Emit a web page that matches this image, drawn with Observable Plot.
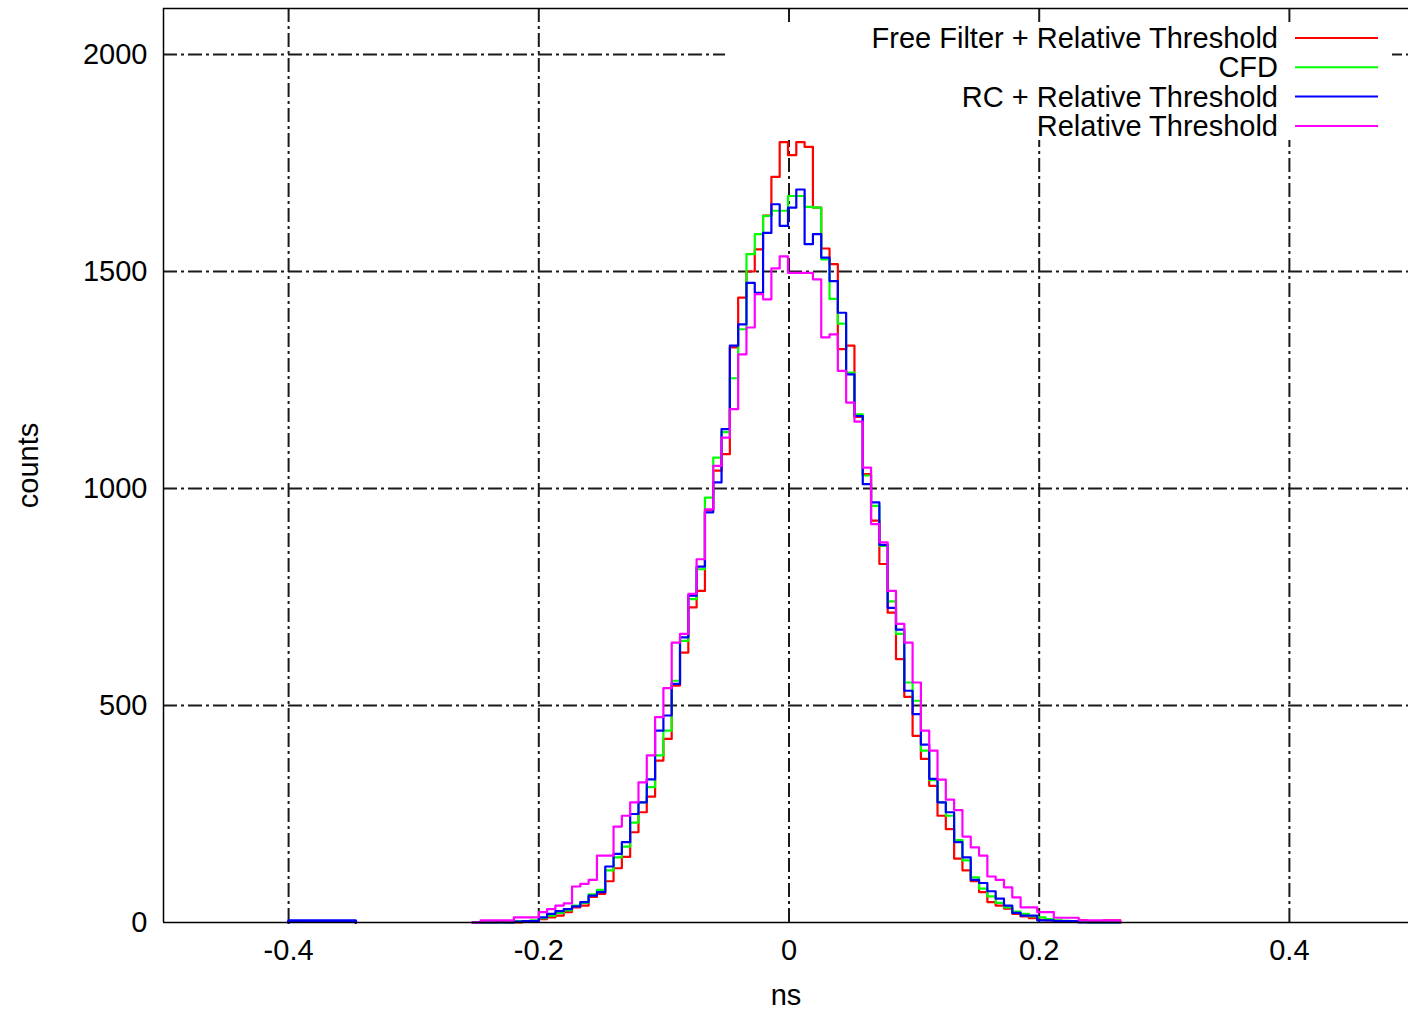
<!DOCTYPE html>
<html>
<head>
<meta charset="utf-8">
<script src="https://cdn.jsdelivr.net/npm/d3@7"></script>
<script src="https://cdn.jsdelivr.net/npm/@observablehq/plot@0.6"></script>
<style>
  body { margin: 0; background: white; }
  #wrap { position: relative; width: 1408px; height: 1011px; overflow: hidden; }
  #legend { position: absolute; left: 725px; top: 24px; }
</style>
</head>
<body>
<div id="wrap"></div>
<script>
// ---- data ----
const binStart = -0.25312;   // ns, left edge of first bin
const binWidth = 0.00664;    // ns

const seriesNames = ["Free Filter + Relative Threshold", "CFD", "RC + Relative Threshold", "Relative Threshold"];
const seriesColors = ["#ff0000", "#00ff00", "#0000ff", "#ff00ff"];

const redCounts = [
  0, 0, 0, 3, 0, 0, 3, 3, 8, 12,
  16, 24, 35, 39, 59, 66, 95, 125, 151, 208,
  254, 290, 373, 423, 546, 622, 726, 764, 950, 1041,
  1079, 1325, 1440, 1500, 1551, 1629, 1718, 1798, 1768, 1798,
  1787, 1647, 1553, 1517, 1321, 1329, 1165, 1033, 926, 826,
  714, 607, 520, 430, 377, 315, 246, 215, 147, 120,
  95, 70, 47, 39, 32, 20, 14, 10, 6, 5,
  4, 3, 3, 5, 3, 3, 5, 5
];
const greenCounts = [
  0, 0, 0, 0, 0, 3, 3, 5, 10, 16,
  22, 28, 39, 45, 65, 75, 120, 150, 175, 230,
  277, 312, 385, 442, 557, 649, 745, 814, 979, 1071,
  1130, 1254, 1367, 1540, 1586, 1628, 1640, 1640, 1674, 1674,
  1649, 1647, 1528, 1437, 1380, 1267, 1171, 1030, 960, 868,
  740, 665, 553, 511, 396, 328, 277, 246, 190, 143,
  104, 78, 60, 45, 35, 25, 20, 14, 12, 8,
  5, 4, 3, 2, 0, 0, 0, 0
];
const blueCounts = [
  0, 0, 0, 0, 0, 2, 3, 3, 12, 20,
  26, 31, 37, 47, 62, 70, 129, 158, 185, 250,
  277, 330, 442, 477, 550, 657, 753, 820, 945, 1014,
  1137, 1329, 1378, 1474, 1451, 1589, 1655, 1605, 1647, 1689,
  1563, 1586, 1532, 1478, 1405, 1263, 1167, 1010, 968, 870,
  725, 675, 534, 480, 410, 331, 277, 254, 185, 150,
  98, 91, 72, 55, 39, 22, 16, 16, 5, 5,
  3, 3, 3, 0, 0, 0, 0, 0
];
const pinkCounts = [
  0, 5, 5, 5, 5, 12, 12, 12, 24, 31,
  39, 44, 83, 89, 98, 154, 154, 221, 246, 277,
  323, 385, 473, 540, 645, 665, 757, 837, 952, 1052,
  1117, 1183, 1309, 1371, 1448, 1436, 1507, 1535, 1497, 1497,
  1497, 1482, 1348, 1355, 1271, 1198, 1154, 1048, 918, 876,
  764, 688, 645, 553, 442, 396, 329, 283, 259, 198,
  173, 154, 106, 98, 81, 58, 35, 35, 24, 24,
  11, 11, 11, 5, 5, 5, 5, 5
];
// isolated blue counts near -0.4 ns
const blueOutlierEdges = [-0.4, -0.3464];
const blueOutlierCounts = [4];

const xTicks = [-0.4, -0.2, 0, 0.2, 0.4];
const xTickLabels = ["-0.4", "-0.2", "0", "0.2", "0.4"];
const yTicks = [0, 500, 1000, 1500, 2000];
const yGridValues = [500, 1000, 1500, 2000];
const xLabel = "ns";
const yLabel = "counts";

// ---- build step points ----
function stepPoints(counts, start, width) {
  const pts = [{x: start, y: 0}];
  counts.forEach((c, i) => pts.push({x: start + i * width, y: c}));
  const end = start + counts.length * width;
  pts.push({x: end, y: counts[counts.length - 1]});
  pts.push({x: end, y: 0});
  return pts;
}
function edgePoints(edges, counts) {
  const pts = [{x: edges[0], y: 0}];
  counts.forEach((c, i) => pts.push({x: edges[i], y: c}));
  pts.push({x: edges[edges.length - 1], y: counts[counts.length - 1]});
  pts.push({x: edges[edges.length - 1], y: 0});
  return pts;
}

const allCounts = [redCounts, greenCounts, blueCounts, pinkCounts];
const gridStyle = {stroke: "#1a1a1a", strokeWidth: 2, strokeDasharray: "14,4,3,4"};

const lineMarks = allCounts.map((counts, i) =>
  Plot.line(stepPoints(counts, binStart, binWidth), {
    x: "x", y: "y", curve: "step-after", stroke: seriesColors[i], strokeWidth: 2.2
  })
);
lineMarks.splice(3, 0, Plot.line(edgePoints(blueOutlierEdges, blueOutlierCounts), {
  x: "x", y: "y", curve: "step-after", stroke: seriesColors[2], strokeWidth: 3
}));

const chart = Plot.plot({
  width: 1408,
  height: 1011,
  marginLeft: 163,
  marginRight: 0,
  marginTop: 8,
  marginBottom: 89,
  x: {domain: [-0.5, 0.5], range: [163, 1414]},
  y: {domain: [0, 2106], range: [922, 8]},
  style: {fontFamily: "'Liberation Sans', Arial, sans-serif", fontSize: "29px", color: "#000", background: "white"},
  marks: [
    Plot.ruleX(xTicks, gridStyle),
    Plot.ruleY(yGridValues, gridStyle),
    ...lineMarks,
    Plot.ruleX([-0.5], {stroke: "#000", strokeWidth: 1.5}),
    Plot.ruleY([0, 2106], {stroke: "#000", strokeWidth: 1.5}),
    Plot.axisX(xTicks, {tickSize: 0, tickPadding: 17, label: null,
      tickFormat: d => xTickLabels[xTicks.indexOf(d)], fontSize: 29}),
    Plot.axisY(yTicks, {tickSize: 0, tickPadding: 16, label: null,
      tickFormat: d => String(d), fontSize: 29}),
    Plot.text([xLabel], {frameAnchor: "bottom", dy: 73, lineAnchor: "middle", textAnchor: "middle",
      fontSize: 29, text: d => d}),
    Plot.text([yLabel], {frameAnchor: "left", dx: -135, rotate: -90, textAnchor: "middle",
      lineAnchor: "middle", fontSize: 29, text: d => d})
  ]
});

const wrap = document.getElementById("wrap");
wrap.appendChild(chart);

// ---- legend (inside plot, top right, white box) ----
const lw = 667, lh = 116;
const leg = d3.select(wrap).append("svg")
  .attr("id", "legend")
  .attr("width", lw).attr("height", lh)
  .style("font-family", "'Liberation Sans', Arial, sans-serif")
  .style("font-size", "29px");
leg.append("rect").attr("width", lw).attr("height", lh).attr("fill", "white");
const rows = leg.selectAll("g").data(seriesNames).join("g")
  .attr("transform", (d, i) => `translate(0,${14 + i * 29.3})`);
rows.append("text")
  .attr("x", 553).attr("y", 0)
  .attr("text-anchor", "end")
  .attr("dominant-baseline", "central")
  .attr("fill", "#000")
  .text(d => d);
rows.append("line")
  .attr("x1", 570).attr("x2", 653)
  .attr("y1", 0).attr("y2", 0)
  .attr("stroke", (d, i) => seriesColors[i])
  .attr("stroke-width", 2);
</script>
</body>
</html>
